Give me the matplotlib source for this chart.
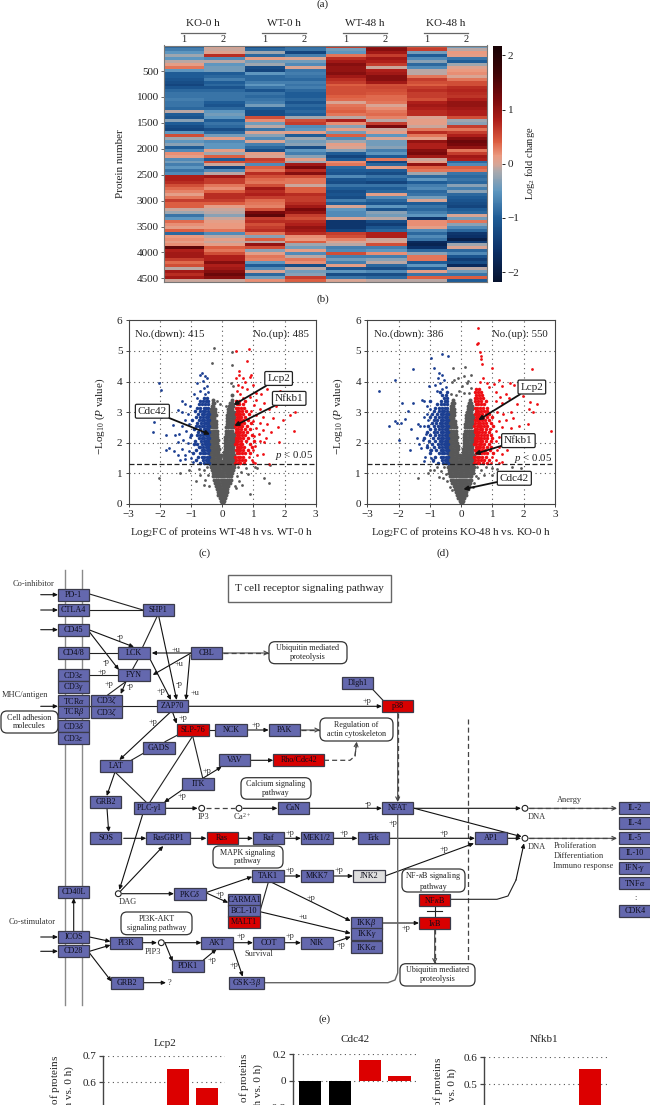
import numpy as np
import matplotlib
matplotlib.use('Agg')
import matplotlib.pyplot as plt
from matplotlib.colors import LinearSegmentedColormap, Normalize
from matplotlib.patches import FancyBboxPatch, Rectangle, Circle

plt.rcParams['font.family'] = ['Liberation Serif', 'DejaVu Serif']
plt.rcParams['mathtext.fontset'] = 'custom'
plt.rcParams['mathtext.rm'] = 'Liberation Serif'
plt.rcParams['mathtext.it'] = 'Liberation Serif:italic'
plt.rcParams['mathtext.bf'] = 'Liberation Serif:bold'
plt.rcParams['axes.unicode_minus'] = True

W, H = 650, 1105
TEXT = '#222222'

# (a) heatmap, one list per sample, each value is one band of proteins
ko0_1 = [-0.9,-0.7,-0.5,-0.2,-0.5,-0.1,0.1,0.3,-0.5,-1.0,-1.0,-1.1,-1.2,-1.3,-1.1,-0.9,-0.8,-0.8,-0.7,-0.8,-0.8,-0.9,-0.1,-1.0,-1.1,-0.3,-1.0,-1.2,-1.3,-0.5,0.5,-0.2,-0.5,-0.3,-1.0,-0.6,0.2,0.1,-0.6,-0.4,
         -0.7,-0.5,-0.8,-0.6,0.8,0.8,0.7,0.5,0.35,0.25,0.1,0.3,0.6,0.4,0.4,-0.05,-0.2,-0.8,-0.5,0.35,0.2,0.1,0.4,-0.9,0.15,0.2,0.1,0.2,1.4,0.8,0.9,0.9,0.6,0.35,0.5,-0.1,0.9,0.7,0.9,-0.05]
ko0_2 = [0.0,-0.05,0.05,0.7,-0.6,-0.1,-0.5,-0.4,-0.4,-1.0,-0.9,-0.7,-1.0,-0.9,-1.1,-0.9,-0.8,-0.8,-0.8,-1.0,-1.1,-0.9,-0.5,-0.4,-0.5,-1.0,-0.8,-0.9,-1.2,-0.9,-0.4,0.1,-0.6,-0.5,-0.5,0.1,-0.2,0.4,-1.0,0.5,
         -0.05,-1.3,-0.6,-0.1,0.9,0.6,0.6,0.3,0.2,0.4,0.7,0.7,0.6,0.4,0.1,-0.05,-0.1,-0.3,-0.05,0.1,0.15,0.15,0.3,-0.6,-0.1,0.1,-0.05,0.1,0.4,0.3,0.5,0.8,0.8,1.1,0.8,0.9,1.1,1.3,1.1,-0.05]
wt0_1 = [-1.2,-0.9,-0.2,-0.9,0.1,-0.4,-0.2,-1.2,-1.3,-0.5,-0.9,-0.9,-0.7,-0.5,-0.8,-1.1,-0.8,-0.9,-0.8,-0.7,-0.4,-1.0,-1.2,-1.2,0.5,0.2,-0.4,-0.1,-0.8,0.0,-0.3,-0.6,0.0,-0.7,-0.9,-1.2,0.1,0.0,0.6,0.5,
         -0.6,0.4,0.3,0.7,0.5,0.35,0.3,0.5,0.9,0.7,0.8,0.6,0.35,0.3,0.25,0.5,1.2,1.4,0.6,0.7,0.5,0.6,0.7,0.3,-0.3,0.4,-0.1,1.0,0.5,-0.3,0.1,0.3,0.25,-0.5,-1.0,-0.6,0.0,-0.9,-0.4,0.2]
wt0_2 = [-0.9,-0.8,-1.3,-0.7,0.0,-0.4,-0.6,0.0,-0.8,-0.7,-0.8,-0.9,-0.7,-0.8,-0.7,-0.9,-1.0,-1.0,-0.9,-1.1,-0.9,-1.0,-0.9,-1.0,-0.2,0.5,0.6,-0.6,-0.5,0.1,-1.0,-0.2,-0.4,-0.3,-1.2,-0.5,-0.7,-0.3,0.1,-0.2,
         0.9,1.2,0.7,1.1,0.5,0.3,0.3,-0.05,0.4,0.4,0.7,0.6,0.6,0.7,0.9,1.2,1.0,0.6,0.5,0.7,0.8,1.0,0.9,0.7,0.2,0.15,0.4,-0.2,-0.4,0.1,-0.6,-0.1,0.3,0.2,-1.2,-0.1,-0.4,-0.3,0.6,0.4]
wt48_1 = [0.6,-0.4,-0.5,0.3,0.7,0.9,1.1,1.0,1.0,1.1,0.9,0.7,0.6,0.4,0.5,0.5,0.5,0.4,0.35,0.0,0.3,0.35,0.4,0.3,-0.1,0.8,0.2,-0.3,0.1,-0.4,0.4,-0.6,-0.2,0.1,0.0,-0.3,-1.0,-1.3,-1.0,0.2,
          0.3,-0.9,-1.0,-1.1,-0.6,-1.1,-1.2,-0.8,-1.0,-1.2,-1.1,-1.2,-0.7,-1.0,0.0,-0.5,-0.6,-0.6,0.0,-1.5,-1.5,-1.5,-1.3,0.6,0.5,0.25,0.0,-0.1,-0.7,-0.6,0.5,-0.7,-0.4,-0.7,0.1,-1.1,-0.5,-1.2,-0.8,0.0]
wt48_2 = [1.0,1.1,0.9,0.6,0.9,0.8,0.6,-0.05,0.8,0.9,1.1,1.1,0.9,0.5,0.55,0.5,0.45,0.35,0.35,0.3,0.0,0.2,0.3,0.35,0.25,-0.1,0.6,1.2,-0.05,0.1,-0.5,0.0,-0.4,-0.4,-0.3,-0.7,-0.5,-1.0,0.3,-1.3,
          -0.9,0.1,-1.0,-1.2,-0.8,-1.0,-1.3,-0.8,-1.0,-0.9,0.1,-0.6,-0.9,-1.1,-0.5,-1.1,-0.3,-0.4,-0.1,-1.2,-1.4,-1.1,-0.9,0.8,0.8,-0.05,0.0,0.5,-0.7,-0.5,0.2,-0.7,-0.3,-0.1,-0.9,-1.2,-0.6,-1.2,-0.9,-0.1]
ko48_1 = [0.5,0.6,-0.4,-1.0,-0.6,-0.3,-0.9,-0.6,-0.1,-0.1,0.3,0.6,0.5,0.4,0.6,0.7,0.6,0.6,0.5,0.8,0.9,0.8,0.7,0.7,0.0,0.1,0.1,-0.05,0.3,0.7,0.3,0.1,1.0,0.8,0.8,1.1,1.2,0.9,-0.05,0.1,
          1.0,0.4,0.3,-0.2,-0.9,-0.5,-1.0,-0.7,-0.6,-0.9,-0.8,-0.4,0.0,-1.0,-0.8,-0.9,-0.7,-0.5,-1.5,0.2,0.2,0.1,-0.6,-0.9,-0.6,-0.8,-1.7,-1.8,-1.6,-0.9,-0.3,0.3,0.3,-1.0,-0.5,-1.0,0.1,-0.8,0.4,-0.1]
ko48_2 = [-0.4,-0.1,0.15,0.1,-0.8,-1.0,-0.2,0.05,0.15,0.2,0.0,0.3,0.5,0.5,0.7,0.75,0.7,0.65,0.8,1.0,1.0,0.9,0.8,0.8,0.5,-0.2,-0.3,0.6,0.3,0.6,0.8,1.1,1.3,1.2,1.0,0.3,0.6,0.9,0.8,-0.9,
          -0.6,0.4,0.3,-0.8,-0.9,-0.8,-0.9,-0.3,-0.7,-0.3,-0.9,-1.0,-1.1,-1.2,-1.3,-1.0,-0.9,0.0,-0.4,0.3,-0.3,-0.6,-0.9,-1.5,-1.6,-1.9,-1.4,-0.2,0.0,-0.9,-0.6,-1.1,-1.4,-1.2,-1.7,-0.1,-0.4,-0.8,0.4,-1.0]
heat_groups = ['KO-0 h', 'WT-0 h', 'WT-48 h', 'KO-48 h']
protein_ticks = [500, 1000, 1500, 2000, 2500, 3000, 3500, 4000, 4500]

# (c) WT volcano: dense parts as {-log10 p: [log2fc, ...]}, sparse parts as (log2fc, -log10 p)
wt_gray_levels = {
    0.03: [-.02,.02], 0.1: [-.05,0,.05], 0.2: [-.08,-.02,.03,.08], 0.3: [-.12,-.06,0,.06,.12],
    0.4: [-.15,-.09,-.03,.03,.09,.15], 0.5: [-.18,-.11,-.04,.03,.1,.17], 0.6: [-.2,-.13,-.06,.01,.08,.14,.2],
    0.7: [-.23,-.16,-.09,-.02,.05,.12,.19,.25], 0.8: [-.26,-.19,-.12,-.05,.02,.09,.16,.23,.28],
    0.9: [-.28,-.21,-.14,-.07,0,.07,.14,.21,.28], 1.0: [-.31,-.24,-.17,-.1,-.03,.04,.11,.18,.25,.31],
    1.1: [-.34,-.27,-.2,-.13,-.06,.01,.08,.15,.22,.29,.35], 1.2: [-.37,-.3,-.23,-.16,-.09,-.02,.05,.12,.19,.26,.33,.38],
    1.3: [-.39,-.32,-.25,-.18,-.11,-.04,.03,.1,.17,.24,.31,.38], 1.4: [-.39,-.33,-.26,-.19,-.12,-.05,.02,.09,.16,.23,.3,.38],
    1.5: [-.39,-.32,-.25,-.18,-.12,-.06,.05,.11,.18,.25,.32,.38], 1.6: [-.38,-.31,-.24,-.17,-.1,-.04,.06,.12,.19,.26,.33,.39],
    1.7: [-.39,-.33,-.26,-.19,-.12,.07,.13,.2,.27,.34], 1.8: [-.38,-.31,-.24,-.17,-.11,.08,.14,.21,.28,.35],
    1.9: [-.39,-.32,-.25,-.18,-.12,.08,.15,.22,.29,.36], 2.0: [-.38,-.31,-.24,-.17,.09,.16,.23,.3,.37],
    2.1: [-.39,-.33,-.26,-.19,-.13,.1,.17,.24,.31,.38], 2.2: [-.38,-.31,-.24,-.17,.1,.17,.24,.31,.38],
    2.3: [-.39,-.32,-.25,-.18,.11,.18,.25,.32,.38], 2.4: [-.38,-.31,-.24,-.18,.12,.19,.26,.33],
    2.5: [-.39,-.33,-.26,-.2,.13,.2,.27,.34], 2.6: [-.38,-.31,-.25,-.19,.14,.21,.28,.35,.39],
    2.7: [-.38,-.32,-.26,-.2,.15,.22,.29,.36], 2.8: [-.37,-.31,-.25,.16,.23,.3,.37],
    2.9: [-.38,-.32,-.26,-.21,.17,.24,.31,.38], 3.0: [-.36,-.3,-.24,.18,.25,.32,.38], 3.1: [-.35,-.29,-.23,.2,.26,.33],
    3.2: [-.34,-.28,.22,.28,.35], 3.3: [-.31,-.25,.26,.32], 3.4: [-.28,.3], 3.55: [.33],
}
wt_gray_sparse = [(-.26,5.1),(-.34,4.62),(.3,4.95),(.32,4.53),(.28,3.95),(.36,3.85),(.12,3.2),(-.07,3.25),(-.18,3.36),
                  (-.5,1.2),(-.6,1.1),(-.45,.95),(-.75,1.15),(-.7,.95),(-.55,.8),(-.85,.75),(-.6,.62),(-1.05,1.1),(-1.37,1.0),(-2.02,.86),
                  (.5,1.22),(.6,1.05),(.47,.9),(.75,1.18),(.82,.98),(.55,.75),(.65,.62),(.45,.52),(1.11,1.16),(1.33,.84),(.9,.32),(1.49,.67),(1.54,1.27),(1.05,1.22),(-.42,.6),(.4,.6)]
wt_blue_levels = {
    1.35: [-.42,-.5,-.58,-.72], 1.45: [-.45,-.53,-.62,-.85], 1.55: [-.42,-.5,-.59,-.66,-.78], 1.65: [-.46,-.54,-.61,-.72,-.95],
    1.75: [-.43,-.5,-.57,-.65,-.83], 1.85: [-.46,-.53,-.61,-.7,-.76], 1.95: [-.42,-.49,-.56,-.64,-.8,-.92], 2.05: [-.45,-.52,-.6,-.69,-.87],
    2.15: [-.43,-.5,-.57,-.65,-.75], 2.25: [-.46,-.53,-.61,-.7,-.82,-1.0], 2.35: [-.43,-.5,-.58,-.66,-.77], 2.45: [-.45,-.52,-.6,-.71,-.9],
    2.55: [-.42,-.5,-.57,-.64,-.74,-.84], 2.65: [-.45,-.53,-.6,-.68,-.8], 2.75: [-.43,-.5,-.58,-.66,-.76,-.96], 2.85: [-.46,-.53,-.61,-.7,-.84],
    2.95: [-.43,-.5,-.57,-.65,-.78], 3.05: [-.46,-.54,-.62,-.72,-.88], 3.15: [-.44,-.52,-.6,-.7,-.8], 3.25: [-.46,-.55,-.64,-.76], 3.35: [-.45,-.53,-.63,-.72], 3.45: [-.48,-.6],
}
wt_blue_sparse = [(-2.04,3.94),(-1.95,3.72),(-2.45,3.23),(-2.22,3.14),(-2.18,2.69),(-1.97,2.85),(-2.23,2.34),(-1.8,2.25),(-1.8,1.76),(-1.71,1.82),
                  (-1.58,2.58),(-1.4,2.3),(-1.43,3.07),(-1.3,3.36),(-1.56,1.73),(-1.37,1.43),(-1.19,1.47),(-.65,4.28),(-.72,4.2),(-.55,4.18),(-.48,4.1),(-.62,4.02),
                  (-.8,3.95),(-.5,3.85),(-.6,3.78),(-.7,3.7),(-.47,3.65),(-.92,3.6),(-.55,3.58),(-.82,3.45),(-1.02,3.2),(-1.1,2.95),(-1.2,2.75),(-1.05,2.6),(-1.28,2.55),(-1.15,2.4),(-1.02,2.2),
                  (-1.25,2.1),(-1.1,1.98),(-1.42,2.02),(-1.3,1.8),(-1.08,1.72),(-1.2,1.6),(-1.0,1.5),(-.95,1.38),(-1.5,2.25),(-1.42,1.6),(-1.28,3.0),(-1.2,3.25)]
wt_red_levels = {
    1.35: [.42,.5,.58,.7], 1.45: [.45,.53,.62,.74], 1.55: [.42,.5,.57,.66], 1.65: [.46,.54,.62,.72,.9], 1.75: [.43,.5,.57,.66,.82],
    1.85: [.46,.53,.61,.7,.95], 1.95: [.42,.49,.56,.64,.88], 2.05: [.45,.52,.6,.76,1.02], 2.15: [.43,.5,.57,.68,.84], 2.25: [.46,.53,.62,.72,.96],
    2.35: [.43,.5,.58,.66,.78], 2.45: [.45,.52,.6,.74,.88], 2.55: [.42,.5,.57,.64,.8], 2.65: [.45,.53,.6,.7,.92], 2.75: [.43,.5,.58,.68,.84],
    2.85: [.46,.53,.61,.74], 2.95: [.43,.5,.57,.66,.86], 3.05: [.46,.54,.62,.76], 3.15: [.44,.52,.6,.7], 3.25: [.46,.55,.66], 3.35: [.45,.53,.72],
}
wt_red_sparse = [(.45,4.99),(.87,5.05),(.79,4.67),(.53,4.34),(.93,4.2),(1.47,4.04),(1.43,3.75),(1.86,3.68),(2.07,3.34),(2.25,3.3),(2.34,2.99),(2.18,2.92),(1.94,2.74),
                 (2.29,2.38),(1.81,2.03),(1.33,2.03),(1.49,1.32),(1.0,1.38),(.55,4.22),(.45,4.1),(.68,4.12),(.88,4.16),(.72,3.98),(.5,3.9),(.62,3.82),(.98,3.9),(.46,3.7),(.8,3.75),(1.1,3.62),
                 (.58,3.6),(1.25,3.6),(.9,3.48),(.68,3.45),(1.1,3.4),(1.35,3.3),(1.02,3.22),(1.2,3.1),(.92,3.05),(1.5,3.1),(1.72,3.2),(1.1,2.9),(1.3,2.85),(1.62,2.8),(1.0,2.72),(1.22,2.65),(1.45,2.6),(1.08,2.48),
                 (1.3,2.42),(1.18,2.3),(1.02,2.22),(1.4,2.15),(1.22,2.05),(1.05,1.9),(1.0,1.75),(1.3,1.62),(1.12,1.6),(.95,1.45),(.85,1.55),(1.05,1.35),(1.55,2.35),(1.78,2.5)]

# (d) KO volcano
ko_gray_levels = {
    0.03: [-.01,.03], 0.1: [-.04,.02,.07], 0.2: [-.09,-.03,.03,.09], 0.3: [-.13,-.07,-.01,.05,.11,.15],
    0.4: [-.17,-.1,-.04,.03,.09,.16], 0.5: [-.2,-.13,-.06,.01,.08,.15,.21], 0.6: [-.24,-.17,-.1,-.03,.04,.11,.18,.24],
    0.7: [-.29,-.22,-.15,-.08,-.01,.06,.13,.2,.27], 0.8: [-.32,-.25,-.18,-.11,-.04,.03,.1,.17,.24,.3],
    0.9: [-.36,-.29,-.22,-.15,-.08,-.01,.06,.13,.2,.27,.33], 1.0: [-.38,-.31,-.24,-.17,-.1,-.03,.04,.11,.18,.25,.32,.37],
    1.1: [-.4,-.33,-.26,-.19,-.12,-.05,.02,.09,.16,.23,.3,.38], 1.2: [-.41,-.34,-.27,-.2,-.13,-.06,.01,.08,.15,.22,.29,.36,.41],
    1.3: [-.39,-.32,-.25,-.18,-.11,-.04,.03,.1,.17,.24,.31,.38], 1.4: [-.39,-.33,-.26,-.19,-.12,-.05,.02,.09,.16,.23,.3,.38],
    1.5: [-.4,-.33,-.26,-.19,-.12,-.05,.04,.11,.18,.25,.32,.39], 1.6: [-.39,-.32,-.25,-.18,-.11,-.05,.05,.12,.19,.26,.33,.4],
    1.7: [-.4,-.33,-.26,-.19,-.12,.06,.13,.2,.27,.34], 1.8: [-.39,-.32,-.25,-.18,-.11,.07,.14,.21,.28,.35],
    1.9: [-.38,-.31,-.24,-.17,-.11,.08,.15,.22,.29,.36], 2.0: [-.39,-.32,-.25,-.18,-.12,.09,.16,.23,.3,.37],
    2.1: [-.38,-.31,-.24,-.17,.09,.16,.23,.3,.37], 2.2: [-.39,-.33,-.26,-.19,-.13,.1,.17,.24,.31,.38],
    2.3: [-.38,-.31,-.24,-.17,.1,.17,.24,.31,.38], 2.4: [-.39,-.32,-.25,-.18,.11,.18,.25,.32,.38],
    2.5: [-.38,-.31,-.24,-.18,.12,.19,.26,.33], 2.6: [-.37,-.31,-.25,-.19,.13,.2,.27,.34,.39],
    2.7: [-.38,-.32,-.26,-.2,.15,.22,.29,.36], 2.8: [-.37,-.31,-.25,.16,.23,.3,.37], 2.9: [-.36,-.3,-.24,.17,.24,.31,.38],
    3.0: [-.35,-.29,-.23,.19,.26,.33], 3.1: [-.34,-.28,-.22,.21,.28,.35], 3.2: [-.32,-.26,.23,.3,.36], 3.3: [-.29,-.24,.25,.32], 3.4: [-.26,.29],
}
ko_gray_sparse = [(.12,4.48),(-.25,4.45),(.3,4.2),(.08,4.18),(-.1,4.12),(.22,4.02),(-.22,4.05),(-.28,3.98),(.18,3.95),(.02,3.85),(.32,3.8),(-.08,3.7),(.1,3.62),(.25,3.62),(-.32,3.6),(-.15,3.55),
                  (-.55,1.22),(-.65,1.08),(-.5,.98),(-.78,1.2),(-.88,1.12),(-.45,.75),(-.58,.85),(-.7,.88),(-.98,1.1),(-1.37,.84),(-1.05,1.0),(.5,1.22),(.62,1.1),(.47,.92),(.78,1.2),
                  (.55,.85),(.72,.95),(.42,.7),(.98,1.18),(.38,.55),(-.36,.55),(-.3,.45),(1.0,.95),(1.15,1.15),(1.62,1.22),(1.9,1.18)]
ko_blue_levels = {
    1.35: [-.42,-.5,-.58,-.74], 1.45: [-.45,-.53,-.62,-.9], 1.55: [-.42,-.5,-.59,-.66,-.82], 1.65: [-.46,-.54,-.61,-.72,-1.0],
    1.75: [-.43,-.5,-.57,-.65,-.8,-.95], 1.85: [-.46,-.53,-.61,-.7,-.86,-1.08], 1.95: [-.42,-.49,-.56,-.64,-.75,-.92], 2.05: [-.45,-.52,-.6,-.69,-.83,-1.02],
    2.15: [-.43,-.5,-.57,-.65,-.75,-.9,-1.18], 2.25: [-.46,-.53,-.61,-.7,-.82,-1.0], 2.35: [-.43,-.5,-.58,-.66,-.77,-.88,-1.1], 2.45: [-.45,-.52,-.6,-.71,-.84,-.98],
    2.55: [-.42,-.5,-.57,-.64,-.74,-.86,-1.05], 2.65: [-.45,-.53,-.6,-.68,-.8,-.94], 2.75: [-.43,-.5,-.58,-.66,-.76,-.88], 2.85: [-.46,-.53,-.61,-.7,-.84,-1.0],
    2.95: [-.43,-.5,-.57,-.65,-.78,-.92], 3.05: [-.46,-.54,-.62,-.72,-.88], 3.15: [-.44,-.52,-.6,-.7,-.85], 3.25: [-.46,-.55,-.64,-.76], 3.35: [-.45,-.53,-.63,-.98], 3.45: [-.44,-.56],
    3.55: [-.47,-.6], 3.65: [-.45,-.68],
}
ko_blue_sparse = [(-2.64,3.69),(-2.13,4.05),(-1.55,4.42),(-.96,4.76),(-.86,4.45),(-.42,4.83),(-.6,4.9),(-1.9,3.3),(-2.3,2.55),(-2.1,2.72),(-2.05,2.65),(-1.93,2.65),(-1.7,3.05),(-1.8,2.78),(-1.54,3.3),
                  (-1.98,2.08),(-1.6,2.45),(-1.62,1.78),(-1.38,2.6),(-1.25,3.4),(-1.2,3.38),(-1.42,2.15),(-1.35,1.95),(-1.28,1.82),(-1.2,2.55),(-1.12,2.3),(-1.22,2.1),(-1.08,1.92),(-1.15,1.55),(-1.2,1.42),(-1.0,1.75),
                  (-.7,4.28),(-.62,4.2),(-.75,4.12),(-.55,4.05),(-.68,3.95),(-.83,3.9),(-.5,3.82),(-.6,3.75),(-.78,3.7),(-1.02,3.85),(-1.1,3.2),(-.98,3.1),(-1.08,2.95),(-1.2,2.85),(-1.05,2.75),(-1.32,2.55),(-.95,1.5),(-.9,1.42)]
ko_red_levels = {
    1.35: [.42,.5,.58,.7,.82], 1.45: [.45,.53,.62,.74,.9], 1.55: [.42,.5,.57,.66,.78], 1.65: [.46,.54,.62,.72,.84,1.02], 1.75: [.43,.5,.57,.66,.76,.92],
    1.85: [.46,.53,.61,.7,.82,.96], 1.95: [.42,.49,.56,.64,.74,.88], 2.05: [.45,.52,.6,.68,.78,.94], 2.15: [.43,.5,.57,.65,.74,.84,1.0], 2.25: [.46,.53,.62,.72,.82,.96],
    2.35: [.43,.5,.58,.66,.76,.88], 2.45: [.45,.52,.6,.68,.8,.92], 2.55: [.42,.5,.57,.64,.72,.84,1.02], 2.65: [.45,.53,.6,.7,.8,.94], 2.75: [.43,.5,.58,.66,.76,.88],
    2.85: [.46,.53,.61,.7,.82,1.0], 2.95: [.43,.5,.57,.66,.78,.9], 3.05: [.46,.54,.62,.72,.84], 3.15: [.44,.52,.6,.7,.82], 3.25: [.46,.55,.63,.74], 3.35: [.45,.53,.62,.78],
    3.45: [.44,.52,.6,.7], 3.55: [.47,.56,.66], 3.65: [.44,.53,.62], 3.75: [.48,.58],
}
ko_red_sparse = [(.55,5.75),(.55,5.25),(.5,5.23),(.6,4.95),(.62,4.85),(.64,4.72),(.66,4.57),(.98,4.45),(2.28,4.4),(1.2,4.05),(.7,4.12),(.6,4.0),(.82,3.95),(1.05,3.92),(1.3,3.85),(1.55,3.95),(1.7,3.9),(1.42,3.6),(1.98,3.52),
                 (1.1,3.65),(.9,3.82),(1.25,3.5),(1.52,3.45),(2.2,3.32),(2.42,3.27),(1.78,3.25),(1.3,3.3),(1.1,3.35),(2.3,3.0),(2.18,3.1),(1.6,3.0),(1.35,2.95),(1.15,3.0),(1.65,2.8),(1.42,2.75),(1.2,2.7),(2.88,2.4),(2.14,2.62),
                 (1.85,2.55),(1.6,2.48),(1.3,2.5),(1.12,2.4),(1.55,2.28),(1.2,2.2),(1.92,2.15),(2.0,2.1),(1.35,2.05),(1.1,2.05),(1.6,1.98),(1.22,1.85),(1.45,1.78),(1.15,1.75),(1.32,1.62),(1.0,1.55),(1.12,1.45),(.95,1.35),(1.2,1.35),(1.32,1.38)]

# (e) bar charts, only the tops are on the page
bar_samples = ['KO-0 h', 'WT-0 h', 'KO-48 h', 'WT-48 h']
lcp2_values = [0.35, 0.32, 0.65, 0.58]
cdc42_values = [-0.34, -0.33, 0.16, 0.04]
nfkb1_values = [0.30, 0.28, 0.42, 0.556]
bar_colors = ['black', 'black', '#dc0000', '#dc0000']

# pathway layout, in page pixels: name, centre x, centre y, box width, kind
pathway_nodes = [
    ('PD-1',73.7,594.7,31.5,'b'),('CTLA4',73.7,610,31.5,'b'),('CD45',73.7,629.7,31.5,'b'),('CD4/8',73.7,653,31.5,'b'),
    ('CD3$\\epsilon$',73.7,674.7,31.5,'b'),('CD3$\\gamma$',73.7,686.7,31.5,'b'),('TCR$\\alpha$',73.7,700.7,31.5,'b'),('TCR$\\beta$',73.7,712.3,31.5,'b'),
    ('CD3$\\delta$',73.7,726.3,31.5,'b'),('CD3$\\epsilon$',73.7,737.7,31.5,'b'),('CD3$\\zeta$',106.3,700.7,31.5,'b'),('CD3$\\zeta$',106.3,712.3,31.5,'b'),
    ('SHP1',158.3,610,31.5,'b'),('LCK',134,653,31.5,'b'),('FYN',134,675.3,31.5,'b'),('CBL',206.7,653,31.5,'b'),('ZAP70',172.7,706.3,31.5,'b'),
    ('SLP-76',193,730,31.5,'r'),('NCK',231,730,31.5,'b'),('PAK',284.7,730,31.5,'b'),('GADS',159,748,31.5,'b'),('LAT',116,766,31.5,'b'),
    ('VAV',234.7,760.3,31.5,'b'),('Rho/Cdc42',298.7,760.3,50.5,'r'),('ITK',198,784.3,31.5,'b'),('Dlgh1',357.7,683.3,31.5,'b'),('p38',397.7,706.3,31.5,'r'),
    ('GRB2',105.7,802.3,31.5,'b'),('PLC-$\\gamma$1',149.3,808.3,31.5,'b'),('CaN',293.3,808.3,31.5,'b'),('SOS',105.7,838.3,31.5,'b'),('RasGRP1',168.3,838.3,44,'b'),
    ('Ras',222.3,838.3,31.5,'r'),('Raf',268.7,838.3,31.5,'b'),('MEK1/2',317,838.3,31.5,'b'),('TAK1',268,876,31.5,'b'),('MKK7',317,876,31.5,'b'),
    ('PKC$\\delta$',190,894,31.5,'b'),('CD40L',73.7,892,31.5,'b'),('CARMA1',244,900,31.5,'b'),('BCL-10',244,911,31.5,'b'),('MALT1',244,922.3,31.5,'r'),
    ('ICOS',73.7,937,31.5,'b'),('CD28',73.7,951.3,31.5,'b'),('PI3K',126,942.7,31.5,'b'),('AKT',217,942.7,31.5,'b'),('COT',268.7,942.7,31.5,'b'),('NIK',317,942.7,31.5,'b'),
    ('PDK1',188,966,31.5,'b'),('GRB2',127,982.7,31.5,'b'),('GSK-3$\\beta$',246.7,982.7,35,'b'),('NFAT',397.7,808.3,31.5,'b'),('Erk',373.3,838.3,31.5,'b'),('AP1',491,838.3,31.5,'b'),
    ('JNK2',369,876,31.5,'g'),('NF$\\kappa$B',434.7,900,31.5,'r'),('I$\\kappa$B',434.7,923,31.5,'r'),('IKK$\\beta$',366.7,923,31.5,'b'),('IKK$\\gamma$',366.7,934.3,31.5,'b'),('IKK$\\alpha$',366.7,946.7,31.5,'b'),
    ('IL-2',635,808.3,31.5,'b'),('IL-4',635,823.3,31.5,'b'),('IL-5',635,838.3,31.5,'b'),('IL-10',635,853.3,31.5,'b'),('IFN-$\\gamma$',635,868,31.5,'b'),('TNF$\\alpha$',635,883,31.5,'b'),('CDK4',635,910.7,31.5,'b'),
]
pathway_groups = [
    ('Cell adhesion\nmolecules',1,711,57,22),('Ubiquitin mediated\nproteolysis',269,641.7,78,22),('Regulation of\nactin cytoskeleton',320,718,73,23),
    ('Calcium signaling\npathway',241,777.7,70,21.5),('MAPK signaling\npathway',213,846,70,22),('PI3K-AKT\nsignaling pathway',121,912,71,22.7),
    ('NF-$\\kappa$B signaling\npathway',402,869,63,23),('Ubiquitin mediated\nproteolysis',400,963.7,75,22.3),
]
# kind: a arrow, n plain line, d dashed arrow, g grey line, t dashed line without a head
pathway_edges = [
    ('a',[(40.7,594.7),(58,594.7)]),('a',[(40.7,610),(58,610)]),('a',[(40.7,629.7),(58,629.7)]),('a',[(40.7,706.3),(58,706.3)]),('n',[(89.5,706.3),(157,706.3)]),
    ('a',[(40.7,937),(58,937)]),('a',[(40.7,951.3),(58,951.3)]),('a',[(188.5,706.3),(382,706.3)]),
    ('n',[(89.5,594),(143,610)]),('n',[(89.5,610),(143,610)]),('a',[(89.5,630),(134,647)]),('a',[(89.5,632),(119,670)]),('n',[(89.5,653),(118,653)]),('n',[(89.5,675),(118,675)]),
    ('n',[(107.7,695),(126,681.5)]),('a',[(126,681.5),(120.7,694)]),('n',[(157.3,616),(142.7,647)]),('n',[(138,659.5),(132.7,669)]),('a',[(158.7,616),(176.7,700)]),('a',[(150,659),(171,700)]),
    ('a',[(191,653),(151.7,653)]),('a',[(191,653),(152.7,675)]),('a',[(190,655),(186,700)]),('d',[(222.7,653),(269,653)]),('a',[(172.7,712.5),(176.7,723.7)]),('a',[(170,712.5),(119.3,760)]),
    ('n',[(209,730),(215,730)]),('a',[(247,730),(268.7,730)]),('d',[(300.7,730),(320,730)]),('n',[(177.7,735),(165,741.7)]),('n',[(143.3,753.3),(131.7,760)]),('n',[(192.7,736),(150,802)]),
    ('n',[(192.7,736),(202.7,778)]),('a',[(203.3,778),(221.7,766.7)]),('a',[(250.7,760.3),(273.3,760.3)]),('d',[(324,760.3),(350,760.3),(355,756),(356.7,741.7)]),
    ('a',[(115,772),(106.7,796)]),('n',[(115,772),(146,802)]),('a',[(182,790),(164,802.5)]),('a',[(165,808.3),(197.7,808.3)]),('t',[(205.7,808.3),(235,808.3)]),('a',[(243,808.3),(277.5,808.3)]),
    ('a',[(309,808.3),(382,808.3)]),('a',[(413.5,808.3),(521,808.3)]),('a',[(414.3,808.3),(521.7,836.7)]),('d',[(529,808.3),(617,808.3)]),('d',[(529,838.3),(617,838.3)]),
    ('a',[(107,808.3),(108.7,832)]),('a',[(123.7,838.3),(146.3,838.3)]),('a',[(190.5,838.3),(206.5,838.3)]),('a',[(238,838.3),(253,838.3)]),('a',[(284.5,838.3),(301,838.3)]),('a',[(333,838.3),(357.5,838.3)]),
    ('a',[(389,838.3),(475,838.3)]),('a',[(507,838.3),(521,838.3)]),('a',[(385,876),(474,843.3)]),('a',[(333,876),(353,876)]),('a',[(284,876),(301,876)]),('a',[(142.7,814.3),(119.3,890)]),
    ('a',[(120,891.7),(163.3,846)]),('a',[(122,893.7),(174,893.7)]),('a',[(205.7,892.7),(252.3,876.7)]),('a',[(205.7,892.7),(228.3,902.7)]),('n',[(260,911),(268.3,882.3)]),('a',[(268.3,880.7),(350.7,921)]),
    ('a',[(260,911.7),(350.7,933.3)]),('a',[(333.3,942.7),(350.7,936.7)]),('a',[(382.5,923),(419,923)]),('n',[(434.7,906),(434.7,917)]),('n',[(427,911),(442,911)]),('d',[(434.7,929),(434.7,963.7)]),
    ('a',[(450.7,899.3),(497,899.3),(508,896),(516,880),(524,843.3)]),('a',[(73.7,931),(73.7,898)]),('a',[(89.5,937),(110.5,941.5)]),('a',[(89.5,951.3),(110.5,945)]),('a',[(89.5,953),(111.5,981.5)]),
    ('a',[(141.7,942.7),(157,942.7)]),('a',[(165,942.7),(201.5,942.7)]),('a',[(165,943),(172.7,961.7)]),('a',[(203.5,960),(216.7,949)]),('a',[(232.7,942.7),(253,942.7)]),('a',[(284.5,942.7),(301,942.7)]),
    ('a',[(233.3,948.7),(242.7,976.7)]),('a',[(142.7,982.7),(166,982.7)]),('g',[(264.5,982.7),(388,982.7),(395,980),(397.7,973),(397.7,814.5)]),('d',[(397.7,712.5),(397.7,802)]),('n',[(373.3,690),(382.7,700)]),
]
edge_labels = [
    ('-p',120,636.7),('-p',106,661.7),('+p',101.7,671.7),('+p',109,683.7),('-p',130,686),('+u',176,649.7),('+u',179.3,664),('-p',179.3,684.3),('+u',194.7,692.7),('+p',161.3,691),('+p',153.3,721.7),
    ('+p',183.3,718),('+p',256.3,725),('+p',207.3,771),('+p',181.7,796),('+p',367,701),('+p',290,833.3),('+p',290,870.3),('+p',220,894.3),('+p',310.7,898.3),('+u',303.3,916.7),('+p',240.7,935.7),
    ('+p',290,935.7),('+p',211.7,960),('+p',234,965),('-p',367.7,804),('+p',344,832.7),('+p',444,832.7),('+p',444,849.3),('+p',393.3,823.3),('+p',339,870),('+p',406,927.7),('+p',341,945),
]
free_labels = [
    ('Co-inhibitor',33.7,584.3),('MHC/antigen',24.7,695),('Co-stimulator',31.7,921.7),('DAG',127.7,902.3),('IP3',204,817),('Ca$^{2+}$',241.7,817),('PIP3',153.3,952.3),('Survival',259,953.7),
    ('Anergy',569,800),('DNA',536.3,816.7),('DNA',536.3,846.7),('?',169.3,982.7),(':',636,898),
]
pathway_outcomes = ['Proliferation', 'Differentiation', 'Immuno response']
junctions = [(201.7,808.3),(239,808.3),(118.3,893.7),(161.3,942.7),(525,808.3),(525,838.3)]

fig = plt.figure(figsize=(W / 100, H / 100), dpi=100)


def px_axes(x0, y0, x1, y1):
    return fig.add_axes([x0 / W, 1 - y1 / H, (x1 - x0) / W, (y1 - y0) / H])


# page layer for the pathway and the loose labels
page = px_axes(0, 0, W, H)
page.set_xlim(0, W)
page.set_ylim(H, 0)
page.axis('off')


def label(x, y, s, size=8, **kw):
    kw.setdefault('ha', 'center')
    kw.setdefault('va', 'center')
    page.text(x, y, s, fontsize=size, color=kw.pop('color', TEXT), **kw)


for s, x, y in [('(a)', 323, 4), ('(b)', 323, 299), ('(c)', 205, 553.5), ('(d)', 443, 553), ('(e)', 325, 1019)]:
    label(x, y, s)

# heatmap
heat_cmap = LinearSegmentedColormap.from_list('heat', [
    (0.0, '#06122e'), (0.13, '#0b2f66'), (0.27, '#1f5c96'), (0.385, '#5f97c0'), (0.466, '#a9a9ad'), (0.5, '#d8a595'),
    (0.534, '#eb9a80'), (0.592, '#dd5f42'), (0.683, '#ae1f1a'), (0.775, '#7a0a0c'), (0.89, '#3c0406'), (1.0, '#160204')])
heat = np.array([ko0_1, ko0_2, wt0_1, wt0_2, wt48_1, wt48_2, ko48_1, ko48_2]).T
ax = px_axes(163.7, 45.5, 487, 282)
im = ax.imshow(heat, aspect='auto', cmap=heat_cmap, norm=Normalize(-2.18, 2.18), extent=[0, 8, 4570, 7], interpolation='nearest')
ax.set_xticks([])
ax.set_yticks(protein_ticks)
ax.tick_params(axis='y', length=2, width=0.6, labelsize=8, labelcolor=TEXT, pad=1.5, color='#555555')
for sp in ax.spines.values():
    sp.set_color('#777777')
ax.set_ylabel('Protein number', fontsize=8, color=TEXT)
ax.yaxis.set_label_coords(-0.119, 0.5)

cax = px_axes(493, 45.5, 502.3, 282)
cb = fig.colorbar(im, cax=cax)
cb.set_ticks([-2, -1, 0, 1, 2])
cb.ax.tick_params(length=2, width=0.6, labelsize=8, labelcolor=TEXT, pad=2)
cb.outline.set_visible(False)
label(530, 163, 'Log$_2$ fold change', size=7.5, rotation=90)

group_x = [(181, 225), (262, 306), (343, 386.7), (424, 467.7)]
for name, (x0, x1) in zip(heat_groups, group_x):
    label((x0 + x1) / 2, 24, name)
    page.plot([x0, x1], [32.7, 32.7], color='#666666', lw=0.9)
    label(x0 + 2.7, 39.5, '1', size=7.5)
    label(x1 - 2, 39.5, '2', size=7.5)


def level_points(levels):
    return np.array([(x, y) for y, xs in levels.items() for x in xs]).T


def volcano(box, gray, blue, red, xlabel, ylab_x, down, up, p_pos, notes):
    ax = px_axes(*box)
    ax.set_xlim(-3, 3)
    ax.set_ylim(0, 6)
    for v in [-2, -1, 0, 1, 2]:
        ax.axvline(v, color='#555555', lw=0.8, ls=(0, (1, 3.2)), zorder=1)
    for v in [1, 2, 3, 4, 5]:
        ax.axhline(v, color='#555555', lw=0.8, ls=(0, (1, 3.2)), zorder=1)
    # dense parts get a wider marker so the mass closes up
    for (levels, sparse), color, z, dense in [(gray, '#585858', 2, 8), (blue, '#1c3f92', 3, 6.5), (red, '#ee0f14', 3, 6.5)]:
        ax.scatter(*level_points(levels), s=dense, color=color, linewidths=0, zorder=z)
        ax.scatter(*np.array(sparse).T, s=4, color=color, linewidths=0, zorder=z)
    ax.axhline(1.3, color='#222222', lw=0.9, ls=(0, (4, 2)), zorder=4)
    ax.set_xticks([-3, -2, -1, 0, 1, 2, 3])
    ax.set_yticks([0, 1, 2, 3, 4, 5, 6])
    ax.tick_params(length=2.5, width=0.7, labelsize=8, labelcolor=TEXT, pad=2, color='#444444')
    for sp in ax.spines.values():
        sp.set_color('#444444')
        sp.set_linewidth(0.8)
    ax.text(-1.67, 5.53, 'No.(down): ' + down, fontsize=7.8, color=TEXT, ha='center', va='center')
    ax.text(1.88, 5.53, 'No.(up): ' + up, fontsize=7.8, color=TEXT, ha='center', va='center')
    ax.text(p_pos[0], p_pos[1], '$p$ < 0.05', fontsize=7.8, color=TEXT, ha='center', va='center', zorder=6)
    for name, tx, ty, ax_x, ax_y in notes:
        ax.annotate(name, xy=(ax_x, ax_y), xytext=(tx, ty), fontsize=8, color=TEXT, ha='center', va='center', zorder=7,
                    bbox=dict(boxstyle='round,pad=0.22,rounding_size=0.12', fc='white', ec='#222222', lw=0.9),
                    arrowprops=dict(arrowstyle='-|>', color='#111111', lw=1.3, mutation_scale=6, shrinkA=0, shrinkB=0))
    label((box[0] + box[2]) / 2 - 0.5, 532, xlabel, size=7.9)
    label(ylab_x, 416.7, '$-$Log$_{10}$ ($P$ value)', size=8, rotation=90)


volcano((128.7, 320.3, 315.7, 504), (wt_gray_levels, wt_gray_sparse), (wt_blue_levels, wt_blue_sparse), (wt_red_levels, wt_red_sparse),
        'Log$_2$FC of proteins WT-48 h vs. WT-0 h', 100.7, '415', '485', (2.3, 1.58),
        [('Lcp2', 1.81, 4.1, .36, 3.23), ('Nfkb1', 2.15, 3.45, .39, 2.55), ('Cdc42', -2.24, 3.03, -.39, 2.27)])
volcano((367.3, 320.3, 555, 504), (ko_gray_levels, ko_gray_sparse), (ko_blue_levels, ko_blue_sparse), (ko_red_levels, ko_red_sparse),
        'Log$_2$FC of proteins KO-48 h vs. KO-0 h', 338, '386', '550', (2.31, 1.47),
        [('Lcp2', 2.26, 3.82, .55, 2.74), ('Nfkb1', 1.83, 2.07, .43, 1.63), ('Cdc42', 1.7, .84, .07, .48)])

# pathway: membrane lines, title, groups, edges, nodes
for x in [65, 82.3]:
    page.plot([x, x], [570, 1005], color='#8a8a8a', lw=1, zorder=1)
page.plot([468.3, 468.3], [719, 960], color='#444444', lw=0.9, ls=(0, (4, 2.5)), zorder=1)
page.add_patch(Rectangle((228, 575), 163, 27.3, fc='white', ec='#666666', lw=1, zorder=2))
label(309.5, 588.5, 'T cell receptor signaling pathway', size=8, zorder=3)

for kind, pts in pathway_edges:
    xs, ys = zip(*pts)
    if kind in 'an':
        page.plot(xs[:-1] if kind == 'a' else xs, ys[:-1] if kind == 'a' else ys, color='#222222', lw=0.8, zorder=2)
        if kind == 'a':
            page.annotate('', xy=pts[-1], xytext=pts[-2], zorder=2,
                          arrowprops=dict(arrowstyle='-|>,head_length=0.35,head_width=0.16', color='#111111', lw=0.8, mutation_scale=7, shrinkA=0, shrinkB=0))
    elif kind == 'g':
        page.plot(xs, ys, color='#666666', lw=1, zorder=2)
    else:
        page.plot(xs, ys, color='#444444', lw=0.9, ls=(0, (4, 2.5)), zorder=2)
        if kind == 'd':
            page.annotate('', xy=pts[-1], xytext=pts[-2], zorder=2,
                          arrowprops=dict(arrowstyle='->,head_length=0.4,head_width=0.2', color='#444444', lw=0.8, mutation_scale=7, shrinkA=0, shrinkB=0))

for name, x0, y0, w, h in pathway_groups:
    page.add_patch(FancyBboxPatch((x0 + 4, y0 + 4), w - 8, h - 8, boxstyle='round,pad=4,rounding_size=6', fc='white', ec='#333333', lw=0.9, zorder=3))
    label(x0 + w / 2, y0 + h / 2, name, size=5.9, linespacing=1.15, zorder=4)

fills = {'b': '#6468ae', 'r': '#d90000', 'g': '#dedede'}
for name, x, y, w, kind in pathway_nodes:
    page.add_patch(Rectangle((x - w / 2, y - 6), w, 12, fc=fills[kind], ec='#3b3b4a', lw=0.9, zorder=5))
    label(x, y, name, size=5.9, color='#0d0d1a', zorder=6)

for x, y in junctions:
    page.add_patch(Circle((x, y), 2.9, fc='white', ec='#222222', lw=0.8, zorder=5))
for s, x, y in edge_labels:
    label(x, y, s, size=6, color='#333333', zorder=6)
for s, x, y in free_labels:
    label(x, y, s, size=6, color='#333333', zorder=6)
for s, y in zip(pathway_outcomes, [846.3, 856.3, 866.3]):
    label(553.3, y, s, size=6, ha='left', color='#333333', zorder=6)


# bar charts run off the bottom of the page
def bar_panel(box, values, ylim, ticks, fmt, title, title_pos, ylab_x, ylab_top):
    ax = px_axes(*box)
    ax.set_ylim(*ylim)
    ax.set_xlim(-0.58, 3.62)
    xs = np.arange(len(bar_samples))
    for t in ticks:
        ax.axhline(t, color='#555555', lw=0.8, ls=(0, (1, 3.2)), zorder=1)
    ax.bar(xs, values, width=0.75, color=bar_colors, zorder=2)
    ax.set_xticks([])
    ax.set_yticks(ticks)
    ax.set_yticklabels([fmt.format(t) for t in ticks])
    ax.tick_params(axis='y', length=3, width=0.9, labelsize=8, labelcolor=TEXT, pad=2, color='#444444')
    for side in ['top', 'right', 'bottom']:
        ax.spines[side].set_visible(False)
    ax.spines['left'].set_color('#444444')
    ax.spines['left'].set_linewidth(1)
    ax.patch.set_alpha(0)
    label(title_pos[0], title_pos[1], title, size=8)
    label(ylab_x, ylab_top, 'Log$_2$FC of proteins', size=8, rotation=90, va='top', clip_on=False)
    label(ylab_x + 14, ylab_top + 11, '(48 h vs. 0 h)', size=8, rotation=90, va='top', clip_on=False)


bar_panel((103, 1055.5, 225, 1243), lcp2_values, (0, 0.7), [0.7, 0.6], '{:.1f}', 'Lcp2', (165, 1043), 55, 1055)
bar_panel((293, 1054.3, 418, 1214.5), cdc42_values, (-1, 0.2), [0.2, 0, -0.2], '{:g}', 'Cdc42', (355, 1039), 244, 1053)
bar_panel((484, 1057.3, 608, 1217.5), nfkb1_values, (0, 0.6), [0.6, 0.5], '{:.1f}', 'Nfkb1', (544, 1039), 438, 1056.7)

fig.savefig('out.png', dpi=100)
